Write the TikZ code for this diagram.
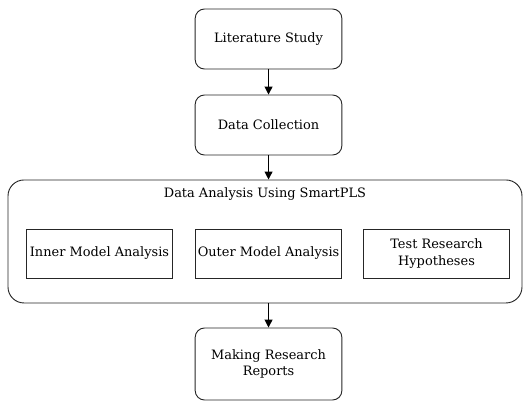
\documentclass[tikz,border=0pt]{standalone}
\usepackage{fontspec}
\setmainfont{DejaVu Serif}
\usetikzlibrary{arrows.meta}

\begin{document}
\begin{tikzpicture}[x=1pt,y=1pt,font=\fontsize{9.7}{12.5}\selectfont]
      \useasboundingbox (0,0) rectangle (394.5,-300.75);
      % main steps
      \begin{scope}[every node/.style={draw=black!85,rounded corners=7pt,line width=0.7pt,
          minimum width=110pt,align=center}]
        \node[minimum height=45pt] (lit) at (201.4,-29.25) {Literature Study};
        \node[minimum height=45pt] (coll) at (201.4,-93.75) {Data Collection};
        \node[minimum width=385.5pt,minimum height=92.25pt,rounded corners=12pt] (ana) at (198.75,-181.1) {};
        \node[minimum height=54pt] (rep) at (201.4,-273) {Making Research\\Reports};
      \end{scope}
      \node (title) at (198.75,-145.5) {Data Analysis Using SmartPLS};
      % analysis parts
      \begin{scope}[every node/.style={draw=black!85,line width=0.7pt,
          minimum width=109pt,minimum height=36.75pt,inner sep=1pt,align=center}]
        \node (inner) at (74.6,-190.1) {Inner Model Analysis};
        \node (outer) at (201.4,-190.1) {Outer Model Analysis};
        \node (test) at (327.4,-190.1) {Test Research\\Hypotheses};
      \end{scope}
      \begin{scope}[every edge/.style={draw,line width=0.8pt,-{Triangle[length=6pt,width=6pt]}}]
        \path (lit) edge (coll);
        \path (coll) edge (coll |- ana.north);
        \path (ana.south -| rep.north) edge (rep);
      \end{scope}
    \end{tikzpicture}
\end{document}
